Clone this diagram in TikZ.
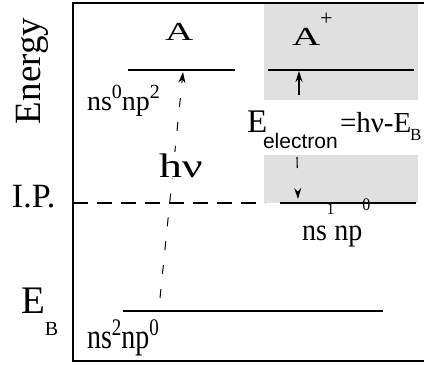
\documentclass[tikz,border=0pt]{standalone}
\usepackage{fontspec}
\setmainfont{Liberation Serif}
\newfontfamily\helvfont{Liberation Sans}
\usetikzlibrary{arrows.meta}
\definecolor{boxgray}{RGB}{224,224,224}
\newcommand{\fsz}[1]{\fontsize{#1}{#1}\selectfont}
\newcommand{\supr}[3]{\raisebox{#2pt}{\fsz{#1}#3}}
\begin{document}
\begin{tikzpicture}[x=1pt,y=-1pt,
  lbl/.style={inner sep=0pt,outer sep=0pt,anchor=base west},
  frameline/.style={line width=1.2pt},
  levelline/.style={line width=1.3pt},
  thicklevel/.style={line width=2.6pt},
  ipdash/.style={line width=1.2pt,dash pattern=on 15pt off 9pt},
  photon/.style={line width=1pt,dash pattern=on 9pt off 15pt,-{Stealth[length=11pt,width=7pt]}},
  updown/.style={line width=1.1pt,-{Stealth[length=11pt,width=7pt]}},
  shade/.style={fill=boxgray,draw=none}]
\useasboundingbox (0,0) rectangle (424,365);
% grey boxes
\fill[shade] (264,4) rectangle (418,100);
\fill[shade] (264,155) rectangle (418,203);
% frame
\coordinate (ftr) at (424,3);
\coordinate (ftl) at (73,3);
\coordinate (fbl) at (73,361);
\coordinate (fbr) at (424,361);
\draw[frameline] (ftr) -- (ftl) -- (fbl) -- (fbr);
% levels
\coordinate (a1) at (128,70); \coordinate (a2) at (235,70);
\draw[thicklevel] (a1) -- (a2);
\coordinate (ap1) at (268,70); \coordinate (ap2) at (414,70);
\draw[levelline] (ap1) -- (ap2);
\coordinate (ip1) at (73,203); \coordinate (ip2) at (265,203);
\draw[ipdash] (ip1) -- (ip2);
\coordinate (ipl1) at (280,203); \coordinate (ipl2) at (416,203);
\draw[levelline] (ipl1) -- (ipl2);
\coordinate (eb1) at (123,311); \coordinate (eb2) at (383,311);
\draw[levelline] (eb1) -- (eb2);
% texts
\node[lbl,rotate=90,anchor=base] (energy) at (40,71) {\fsz{37}Energy};
\node[lbl] (A) at (165,40) {\fsz{26}\scalebox{1.5}[1]{A}};
\node[lbl] (Aplus) at (292,45) {\fsz{26}\scalebox{1.5}[1]{A}\supr{22}{20}{+}};
\node[lbl] (c1) at (87,110) {\fsz{28}ns\supr{20}{12}{0}np\supr{20}{12}{2}};
\node[lbl] (IP) at (12,207) {\fsz{34}I.P.};
\node[lbl] (EB) at (22,313) {\fsz{39}E};
\node[lbl] (EBsub) at (45,335) {\fsz{20}B};
\node[lbl] (c3) at (87,348) {\scalebox{1}[1.25]{\fsz{28}ns\supr{19}{10}{2}np\supr{19}{10}{0}}};
\node[lbl] (c2) at (302,240) {\scalebox{1}[1.1]{\fsz{28}ns\supr{15}{23}{1}np\supr{16}{27}{0}}};
\node[lbl] (Ee) at (247,132) {\fsz{33}E};
\node[lbl] (Eesub) at (263,148) {\helvfont\fsz{21}electron};
\node[lbl] (Eeq) at (340,132) {\fsz{29}=hν-E};
\node[lbl] (Eeqsub) at (410,140) {\fsz{17}B};
% photon
\coordinate (ph0) at (160,298);
\coordinate (ph1) at (183,72);
\draw[photon] (ph0) -- (ph1);
\node[lbl,fill=white,inner sep=1pt] (hnu) at (158,177) {\fsz{34}\scalebox{1.35}[1]{hν}};
% electron arrows
\coordinate (up0) at (299,95);
\coordinate (up1) at (299,71);
\draw[updown] (up0) -- (up1);
\coordinate (dn0) at (297,157);
\coordinate (dn1) at (298,199);
\draw[updown,dash pattern=on 11pt off 30pt] (dn0) -- (dn1);
\end{tikzpicture}
\end{document}
